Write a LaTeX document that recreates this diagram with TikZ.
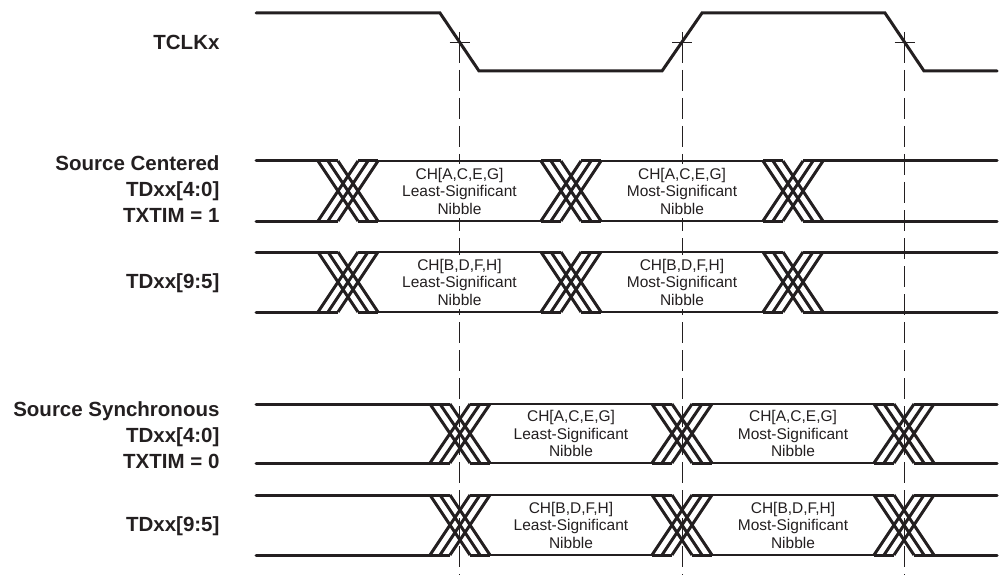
\documentclass[tikz,border=0pt]{standalone}
\usepackage{fontspec}
\setmainfont{Liberation Sans}
\definecolor{ink}{RGB}{35,31,32}

\begin{document}
\begin{tikzpicture}
	[x=1pt,y=-1pt,
	sig/.style={line width=3pt,line cap=round,draw=ink},
	bus/.style={line width=1.5pt,draw=ink},
	edge/.style={line width=0.8pt,draw=ink},
	lbl/.style={anchor=east,align=right,text=ink,font=\bfseries\fontsize{20.5}{26}\selectfont},
	dat/.style={align=center,text=ink,fill=white,inner xsep=2pt,inner ysep=4pt,font=\fontsize{15.5}{17.5}\selectfont}]
	\useasboundingbox (0,0) rectangle (999,575);
	
	% clock
	\draw[sig] (256,13) -- (440,13) -- (479,71) -- (662,71) -- (702,13) -- (885,13) -- (924,71) -- (997,71);
	\coordinate (e1) at (459.5,42);
	\coordinate (e2) at (682,42);
	\coordinate (e3) at (904.5,42);
	\foreach \e in {e1,e2,e3} {
		\draw[edge] ([xshift=-10pt]\e) -- ([xshift=10pt]\e);
		\draw[edge] ([yshift=10pt]\e) -- (\e);
		\draw[edge,dash pattern=on 21pt off 7pt] (\e) -- (\e |- 0,575);
	}
	
	% labels
	\node[lbl] (tclk) at (223,42) {TCLKx};
	\node[lbl] (sc) at (223,189) {Source Centered\\TDxx[4:0]\\TXTIM = 1};
	\node[lbl] (sc2) at (223,283) {TDxx[9:5]};
	\node[lbl] (ss) at (223,435) {Source Synchronous\\TDxx[4:0]\\TXTIM = 0};
	\node[lbl] (ss2) at (223,526) {TDxx[9:5]};
	
	% buses: top/bottom/first/second/third transition
	\foreach \t/\b/\xa/\xb/\xc in {161/221/318/541/763,252/312/318/541/763,404/463/430/652/874,495/555/430/652/874} {
		\draw[sig] (256,\t) -- (\xa,\t) (256,\b) -- (\xa,\b);
		\draw[sig] (\xc+60,\t) -- (997,\t) (\xc+60,\b) -- (997,\b);
		\draw[bus] (\xa+60,\t) -- (\xb,\t) (\xa+60,\b) -- (\xb,\b);
		\draw[bus] (\xb+60,\t) -- (\xc,\t) (\xb+60,\b) -- (\xc,\b);
		\foreach \x in {\xa,\xb,\xc} {
			\draw[sig,line cap=butt] (\x,\t) -- (\x+20,\t) (\x,\b) -- (\x+20,\b)
				(\x+40,\t) -- (\x+60,\t) (\x+40,\b) -- (\x+60,\b);
			\foreach \d in {0,10,20}
			\draw[sig,line cap=butt] (\x+\d,\t) -- (\x+\d+40,\b) (\x+\d,\b) -- (\x+\d+40,\t);
		}
	}
	
	% data
	\node[dat] (a1) at (459.5,191) {CH[A,C,E,G]\\Least-Significant\\Nibble};
	\node[dat] (a2) at (682,191) {CH[A,C,E,G]\\Most-Significant\\Nibble};
	\node[dat] (b1) at (459.5,282) {CH[B,D,F,H]\\Least-Significant\\Nibble};
	\node[dat] (b2) at (682,282) {CH[B,D,F,H]\\Most-Significant\\Nibble};
	\node[dat] (c1) at (571,433.5) {CH[A,C,E,G]\\Least-Significant\\Nibble};
	\node[dat] (c2) at (793,433.5) {CH[A,C,E,G]\\Most-Significant\\Nibble};
	\node[dat] (d1) at (571,525) {CH[B,D,F,H]\\Least-Significant\\Nibble};
	\node[dat] (d2) at (793,525) {CH[B,D,F,H]\\Most-Significant\\Nibble};
\end{tikzpicture}
\end{document}
